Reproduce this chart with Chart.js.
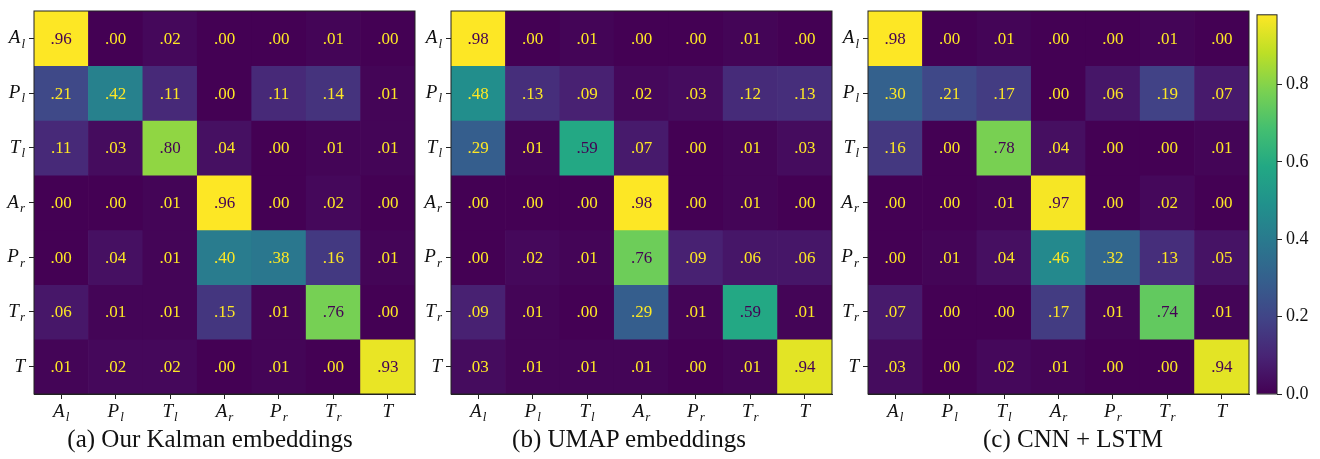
<!DOCTYPE html>
<html>
<head>
<meta charset="utf-8">
<script src="https://cdn.jsdelivr.net/npm/chart.js@4.4.0/dist/chart.umd.min.js"></script>
<style>
  body { margin: 0; background: #fff; }
  #wrap { position: relative; width: 1320px; height: 459px; overflow: hidden; }
  canvas { position: absolute; top: 0; }
  .cap { position: absolute; top: 425px; font-family: "Liberation Serif", serif; font-size: 25px; color: #111; white-space: nowrap; transform: translateX(-50%); }
</style>
</head>
<body>
<div id="wrap">
  <canvas id="ca" width="430" height="459" style="left:0px"></canvas>
  <canvas id="cb" width="430" height="459" style="left:417px"></canvas>
  <canvas id="cc" width="430" height="459" style="left:834px"></canvas>
  <canvas id="cbar" width="80" height="459" style="left:1240px"></canvas>
  <div class="cap" style="left:210px">(a) Our Kalman embeddings</div>
  <div class="cap" style="left:629px">(b) UMAP embeddings</div>
  <div class="cap" style="left:1073px">(c) CNN + LSTM</div>
</div>
<script>
// class names: letter + subscript
const classNames = ['A', 'P', 'T', 'A', 'P', 'T', 'T'];
const classSubs = ['l', 'l', 'l', 'r', 'r', 'r', ''];

// rows = true class, cols = predicted
const kalmanValues = [
  [.96, .00, .02, .00, .00, .01, .00],
  [.21, .42, .11, .00, .11, .14, .01],
  [.11, .03, .80, .04, .00, .01, .01],
  [.00, .00, .01, .96, .00, .02, .00],
  [.00, .04, .01, .40, .38, .16, .01],
  [.06, .01, .01, .15, .01, .76, .00],
  [.01, .02, .02, .00, .01, .00, .93]
];
const umapValues = [
  [.98, .00, .01, .00, .00, .01, .00],
  [.48, .13, .09, .02, .03, .12, .13],
  [.29, .01, .59, .07, .00, .01, .03],
  [.00, .00, .00, .98, .00, .01, .00],
  [.00, .02, .01, .76, .09, .06, .06],
  [.09, .01, .00, .29, .01, .59, .01],
  [.03, .01, .01, .01, .00, .01, .94]
];
const cnnValues = [
  [.98, .00, .01, .00, .00, .01, .00],
  [.30, .21, .17, .00, .06, .19, .07],
  [.16, .00, .78, .04, .00, .00, .01],
  [.00, .00, .01, .97, .00, .02, .00],
  [.00, .01, .04, .46, .32, .13, .05],
  [.07, .00, .00, .17, .01, .74, .01],
  [.03, .00, .02, .01, .00, .00, .94]
];
const colorbarMax = 0.98;
const colorbarTicks = [0, 0.2, 0.4, 0.6, 0.8];

const viridisStops = ['#440154', '#482475', '#414487', '#355f8d', '#2a788e', '#21918c',
  '#22a884', '#44bf70', '#7ad151', '#bddf26', '#fde725'];

function hexRgb(h) {
  return [1, 3, 5].map(i => parseInt(h.substr(i, 2), 16));
}
function viridis(t) {
  t = Math.max(0, Math.min(1, t));
  const p = t * 10;
  const i = Math.min(9, Math.floor(p));
  const f = p - i;
  const a = hexRgb(viridisStops[i]), b = hexRgb(viridisStops[i + 1]);
  const c = a.map((v, k) => Math.round(v + (b[k] - v) * f));
  return 'rgb(' + c.join(',') + ')';
}

const serif = '"Liberation Serif", "DejaVu Serif", serif';

function drawName(ctx, name, sub, x, y, align) {
  ctx.font = 'italic 19px ' + serif;
  const w1 = ctx.measureText(name).width;
  ctx.font = 'italic 13px ' + serif;
  const w2 = sub ? ctx.measureText(sub).width + 1 : 0;
  let start = align === 'right' ? x - w1 - w2 : x - (w1 + w2) / 2;
  ctx.fillStyle = '#111';
  ctx.textAlign = 'left';
  ctx.textBaseline = 'middle';
  ctx.font = 'italic 19px ' + serif;
  ctx.fillText(name, start, y);
  if (sub) {
    ctx.font = 'italic 13px ' + serif;
    ctx.fillText(sub, start + w1 + 1, y + 6);
  }
}

const matrixPlugin = {
  id: 'matrixText',
  afterDatasetsDraw(chart) {
    const {ctx, chartArea: a, scales: {x, y}} = chart;
    const vals = chart.options.plugins.matrixText.values;
    const max = Math.max(...vals.flat());
    ctx.save();
    ctx.font = '17px ' + serif;
    ctx.textAlign = 'center';
    ctx.textBaseline = 'middle';
    vals.forEach((row, r) => {
      row.forEach((v, c) => {
        ctx.fillStyle = v < max / 2 ? '#fde725' : '#440154';
        ctx.fillText(v.toFixed(2).replace(/^0/, ''), x.getPixelForValue(c), y.getPixelForValue(r) + 1);
      });
    });
    ctx.strokeStyle = '#222';
    ctx.lineWidth = 1;
    ctx.strokeRect(a.left, a.top, a.right - a.left, a.bottom - a.top);
    classNames.forEach((n, i) => {
      drawName(ctx, n, classSubs[i], x.getPixelForValue(i), a.bottom + 18, 'center');
      drawName(ctx, n, classSubs[i], a.left - 9, y.getPixelForValue(i), 'right');
    });
    ctx.restore();
  }
};

function makeMatrix(id, values) {
  const max = Math.max(...values.flat());
  const datasets = values.map((row, r) => ({
    data: row.map(() => [r - 0.5, r + 0.5]),
    backgroundColor: row.map(v => viridis(v / max)),
    borderWidth: 0,
    barPercentage: 1,
    categoryPercentage: 1,
    grouped: false
  }));
  return new Chart(document.getElementById(id), {
    type: 'bar',
    data: { labels: classNames.map((n, i) => n + classSubs[i]), datasets },
    plugins: [matrixPlugin],
    options: {
      responsive: false,
      animation: false,
      layout: { padding: { left: 0, right: 15, top: 11, bottom: 0 } },
      plugins: { legend: { display: false }, tooltip: { enabled: false }, matrixText: { values } },
      scales: {
        x: {
          ticks: { display: false },
          grid: { offset: false, drawOnChartArea: false, drawTicks: true, tickLength: 5, color: '#222' },
          border: { color: '#222' },
          afterFit: s => { s.height = 65; }
        },
        y: {
          type: 'linear', min: -0.5, max: 6.5, reverse: true,
          afterBuildTicks: s => { s.ticks = classNames.map((_, i) => ({ value: i })); },
          ticks: { display: false },
          grid: { drawOnChartArea: false, drawTicks: true, tickLength: 5, color: '#222' },
          border: { color: '#222' },
          afterFit: s => { s.width = 34; }
        }
      }
    }
  });
}

makeMatrix('ca', kalmanValues);
makeMatrix('cb', umapValues);
makeMatrix('cc', cnnValues);

const frame = {
  id: 'frame',
  afterDraw(chart) {
    const {ctx, chartArea: a} = chart;
    ctx.save();
    ctx.strokeStyle = '#222';
    ctx.strokeRect(a.left, a.top, a.right - a.left, a.bottom - a.top);
    ctx.restore();
  }
};

new Chart(document.getElementById('cbar'), {
  type: 'bar',
  data: {
    labels: [''],
    datasets: [{
      data: [[0, colorbarMax]],
      barPercentage: 1,
      categoryPercentage: 1,
      borderWidth: 0,
      backgroundColor: ctx => {
        const a = ctx.chart.chartArea;
        if (!a) return viridisStops[0];
        const g = ctx.chart.ctx.createLinearGradient(0, a.bottom, 0, a.top);
        viridisStops.forEach((c, i) => g.addColorStop(i / 10, c));
        return g;
      }
    }]
  },
  plugins: [frame],
  options: {
    responsive: false,
    animation: false,
    layout: { padding: { left: 17, right: 0, top: 11, bottom: 65 } },
    plugins: { legend: { display: false }, tooltip: { enabled: false } },
    scales: {
      x: { display: false },
      y: {
        position: 'right', min: 0, max: colorbarMax,
        afterBuildTicks: s => { s.ticks = colorbarTicks.map(v => ({ value: v })); },
        ticks: { callback: v => v.toFixed(1), color: '#111', padding: 4, font: { family: serif, size: 18 } },
        grid: { drawOnChartArea: false, drawTicks: true, tickLength: 5, color: '#222' },
        border: { display: false },
        afterFit: s => { s.width = 43; }
      }
    }
  }
});
</script>
</body>
</html>
